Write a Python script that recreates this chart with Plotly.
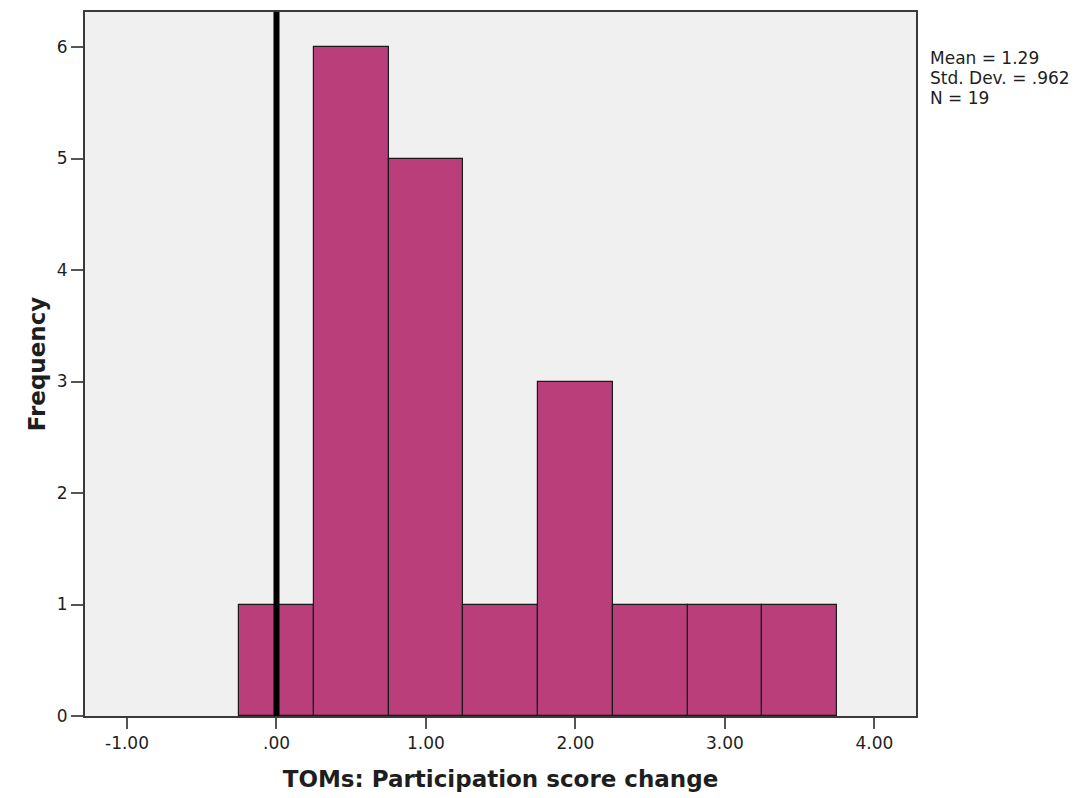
import plotly.graph_objects as go

# Histogram of participation score change (bin width 0.5)
bin_centers = [0.0, 0.5, 1.0, 1.5, 2.0, 2.5, 3.0, 3.5]
frequencies = [1, 6, 5, 1, 3, 1, 1, 1]
bin_width = 0.5

x_tick_values = [-1, 0, 1, 2, 3, 4]
x_tick_labels = ["-1.00", ".00", "1.00", "2.00", "3.00", "4.00"]
y_tick_values = [0, 1, 2, 3, 4, 5, 6]

stats_lines = ["Mean = 1.29", "Std. Dev. = .962", "N = 19"]
reference_x = 0.0

BAR_COLOR = "rgb(186,62,122)"
FRAME = "#3a3a3a"
TEXT = "#1e1e1e"
FONT = "DejaVu Sans"

fig = go.Figure()
fig.add_trace(go.Bar(
    x=bin_centers,
    y=frequencies,
    width=[bin_width] * len(bin_centers),
    marker=dict(color=BAR_COLOR, line=dict(color="#1a1a1a", width=1.2)),
    hoverinfo="x+y",
))

# reference line at zero
fig.add_shape(type="line", xref="x", yref="paper",
              x0=reference_x, x1=reference_x, y0=0, y1=1,
              line=dict(color="black", width=6), layer="above")

# summary statistics beside the plot
for i, line in enumerate(stats_lines):
    fig.add_annotation(text=line, xref="paper", yref="paper",
                       x=1.0162, y=0.935 - i * 0.0285,
                       xanchor="left", yanchor="middle", showarrow=False,
                       borderpad=0,
                       font=dict(family=FONT, size=17, color=TEXT))

fig.update_layout(
    width=1089, height=798,
    margin=dict(l=85, r=173, t=12, b=82),
    paper_bgcolor="white",
    plot_bgcolor="#f0f0f0",
    showlegend=False,
    bargap=0,
    font=dict(family=FONT, size=18, color=TEXT),
    xaxis=dict(
        range=[-1.281, 4.278],
        tickvals=x_tick_values, ticktext=x_tick_labels,
        ticks="outside", ticklen=11, tickwidth=2, tickcolor="#555",
        showline=True, linecolor=FRAME, linewidth=2, mirror=True,
        showgrid=False, zeroline=False, automargin=False,
        tickfont=dict(family=FONT, size=17, color=TEXT),
        title=dict(text="<b>TOMs: Participation score change</b>",
                   font=dict(family=FONT, size=23, color=TEXT), standoff=18),
    ),
    yaxis=dict(
        range=[0, 6.314],
        tickvals=y_tick_values,
        ticks="outside", ticklen=12, tickwidth=2, tickcolor="#555",
        showline=True, linecolor=FRAME, linewidth=2, mirror=True,
        showgrid=False, zeroline=False,
        tickfont=dict(family=FONT, size=17, color=TEXT),
        title=dict(text="<b>Frequency</b>",
                   font=dict(family=FONT, size=23, color=TEXT), standoff=5),
    ),
)

fig.write_html("out.html")
